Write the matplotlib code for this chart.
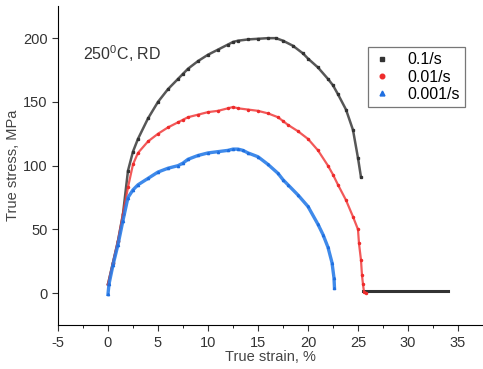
import matplotlib.pyplot as plt

plt.rcParams['font.family'] = ['Liberation Sans', 'DejaVu Sans']
plt.rcParams['mathtext.default'] = 'regular'
plt.rcParams['axes.unicode_minus'] = False

# strain (%) and stress (MPa)
x_fast = [0, 0.5, 1.0, 1.5, 2.0, 2.5, 3, 4, 5, 6, 7, 7.5, 8, 9, 10, 11, 12, 12.5, 13, 14, 15, 16, 16.8,
          17.5, 18.5, 19.5, 20, 21, 22, 22.5, 23, 23.8, 24.5, 25.0, 25.3]
y_fast = [7, 24, 41, 62, 96, 111, 121, 137, 150, 160, 168, 172, 176, 182, 187, 191, 195, 197, 198, 199, 199.5, 200, 200,
          198, 194, 188, 184, 177, 168, 163, 156, 144, 128, 106, 91]
x_fast_tail = [25.5, 34.0]
y_fast_tail = [1.5, 1.5]

x_mid = [0, 0.5, 1.0, 1.5, 2.0, 2.5, 3, 4, 5, 6, 7, 7.5, 8, 9, 10, 11, 12, 12.5, 13, 14, 15, 16, 17, 17.5,
         18, 19, 20, 21, 22, 22.5, 23, 23.8, 24.5, 25.0, 25.1, 25.3, 25.4, 25.5, 25.6, 25.8]
y_mid = [7, 24, 41, 62, 83, 101, 110, 119, 125, 130, 134, 136, 138, 140, 142, 143, 145, 146, 145, 144, 143, 141, 138, 135,
         132, 127, 121, 112, 100, 93, 85, 73, 60, 50, 39, 26, 14, 7, 1, 0]

x_slow = [0, 0.1, 0.5, 1.0, 1.5, 2.0, 2.5, 3, 4, 5, 6, 7, 7.5, 8, 9, 10, 11, 12, 12.5, 13, 13.5, 14, 15, 16,
          17, 17.5, 18, 19, 20, 21, 21.5, 22, 22.4, 22.6, 22.65]
y_slow = [-1, 7, 22, 38, 57, 75, 81, 85, 90, 95, 98, 100, 102, 105, 108, 110, 111, 112, 113, 113, 112, 110, 107, 101,
          94, 89, 85, 77, 68, 54, 46, 36, 24, 12, 4]

fig = plt.figure(figsize=(4.83, 3.69), dpi=100)
ax = fig.add_axes([0.12, 0.119, 0.88, 0.864])

ax.plot(x_fast, y_fast, color='#3a3a3a', lw=1.8, alpha=0.85)
ax.plot(x_fast, y_fast, 's', color='#333333', ms=1.4, label='0.1/s')
ax.plot(x_fast_tail, y_fast_tail, color='#333333', lw=2.2)
ax.plot(x_mid, y_mid, color='#f03c3c', lw=1.6, alpha=0.85)
ax.plot(x_mid, y_mid, 'o', color='#ee2b2b', ms=1.5, label='0.01/s')
ax.plot(x_slow, y_slow, color='#2a7de8', lw=2.4, alpha=0.9)
ax.plot(x_slow, y_slow, '^', color='#1f6fe0', ms=1.6, label='0.001/s')

ax.set_xlim(-5, 37.4)
ax.set_ylim(-25, 225)
ax.set_xticks(range(-5, 36, 5))
ax.set_yticks(range(0, 201, 50))
ax.set_xticks([x + 2.5 for x in range(-5, 36, 5)], minor=True)
ax.set_yticks([y + 25 for y in range(-25, 201, 50)], minor=True)
ax.spines['top'].set_visible(False)
ax.spines['right'].set_visible(False)
ax.tick_params(direction='out', labelsize=10.5, colors='#333333', length=4)
ax.tick_params(which='minor', direction='out', length=2.5)

ax.set_xlabel('True strain, %', fontsize=10.5, color='#444444', labelpad=0)
ax.set_ylabel('True stress, MPa', fontsize=10.5, color='#444444', labelpad=2)

ax.text(-2.5, 188, '250$^0$C, RD', fontsize=11.5, color='#333333', va='center')

leg = ax.legend(loc='upper left', bbox_to_anchor=(0.729, 0.871), fontsize=11.5, markerscale=2.2,
                handlelength=1.2, handletextpad=1.0, labelspacing=0.15, fancybox=False,
                shadow=False, borderpad=0.3, borderaxespad=0, frameon=True)
leg.get_frame().set_edgecolor('#555555')
leg.get_frame().set_linewidth(0.9)

fig.savefig('out.png', dpi=100)
